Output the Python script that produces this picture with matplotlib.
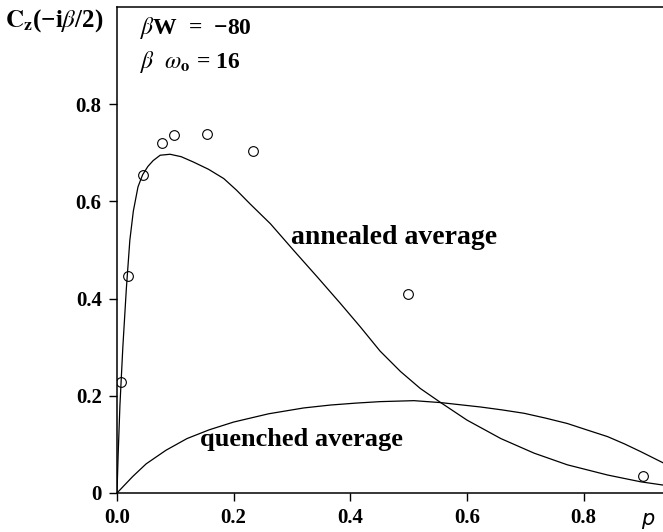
import matplotlib.pyplot as plt
import numpy as np

plt.rcParams['mathtext.fontset'] = 'stix'

# simulation points (open circles)
p_sim = [0.006, 0.018, 0.044, 0.077, 0.097, 0.154, 0.233, 0.499, 0.901]
c_sim = [0.228, 0.446, 0.654, 0.720, 0.737, 0.739, 0.704, 0.409, 0.035]

# annealed average curve
p_ann = [0.0, 0.002, 0.005, 0.010, 0.016, 0.022, 0.028, 0.036, 0.044, 0.053,
         0.062, 0.074, 0.091, 0.110, 0.131, 0.157, 0.183, 0.205, 0.228, 0.263,
         0.303, 0.343, 0.383, 0.417, 0.451, 0.486, 0.520, 0.555, 0.600, 0.658,
         0.715, 0.772, 0.841, 0.898, 0.938]
c_ann = [0.0, 0.080, 0.180, 0.300, 0.420, 0.520, 0.580, 0.630, 0.655, 0.672,
         0.684, 0.695, 0.697, 0.692, 0.681, 0.666, 0.647, 0.623, 0.595, 0.554,
         0.499, 0.445, 0.390, 0.342, 0.292, 0.250, 0.215, 0.186, 0.150, 0.112,
         0.082, 0.058, 0.037, 0.023, 0.016]

# quenched average curve
p_q = [0.0, 0.027, 0.050, 0.084, 0.120, 0.158, 0.200, 0.260, 0.320, 0.366,
       0.410, 0.451, 0.509, 0.555, 0.623, 0.660, 0.698, 0.735, 0.772, 0.805,
       0.841, 0.870, 0.898, 0.938]
c_q = [0.0, 0.034, 0.060, 0.088, 0.112, 0.130, 0.146, 0.163, 0.175, 0.181,
       0.185, 0.188, 0.190, 0.186, 0.177, 0.171, 0.164, 0.154, 0.143, 0.130,
       0.116, 0.101, 0.085, 0.061]

serif = ['Liberation Serif', 'DejaVu Serif']

fig = plt.figure(figsize=(6.63, 5.32), dpi=100)
ax = fig.add_axes([117 / 663, 1 - 493 / 532, 1 - 117 / 663, 486 / 532])

ax.plot(p_ann, c_ann, color='black', lw=0.9)
ax.plot(p_q, c_q, color='black', lw=0.9)
ax.plot(p_sim, c_sim, 'o', ms=7, mfc='none', mec='black', mew=0.8)

ax.set_xlim(0, 0.936)
ax.set_ylim(0, 1.0)
ax.set_xticks([0.0, 0.2, 0.4, 0.6, 0.8])
ax.set_xticklabels(['0.0', '0.2', '0.4', '0.6', '0.8'])
ax.set_yticks([0, 0.2, 0.4, 0.6, 0.8])
ax.set_yticklabels(['0', '0.2', '0.4', '0.6', '0.8'])
for lab in ax.get_xticklabels() + ax.get_yticklabels():
    lab.set_fontfamily(serif)
    lab.set_fontweight('bold')
    lab.set_fontsize(15)
ax.tick_params(direction='out', length=6, width=1, pad=5)
ax.spines['right'].set_visible(False)
for s in ['left', 'bottom', 'top']:
    ax.spines[s].set_linewidth(1.1)

# labels
fig.text(5 / 663, 1 - 21 / 532, r'$\mathbf{C_z}$(−$\mathbf{i}\beta$/2)', family=serif,
         fontweight='bold', fontsize=18, va='center', ha='left')
fig.text(140 / 663, 1 - 28 / 532, r'$\beta$W  =  −80', family=serif, fontweight='bold',
         fontsize=17, va='center')
fig.text(140 / 663, 1 - 62 / 532, r'$\beta$  $\omega_{\mathbf{o}}$ = 16', family=serif,
         fontweight='bold', fontsize=17, va='center')
ax.text(0.298, 0.525, 'annealed average', family=serif, fontweight='bold',
        fontsize=20, va='center', ha='left')
ax.text(0.143, 0.111, 'quenched average', family=serif, fontweight='bold',
        fontsize=19, va='center', ha='left')
fig.text(648 / 663, 1 - 519 / 532, 'p', family='DejaVu Sans', style='italic',
         fontsize=15, va='center', ha='center')

fig.savefig('out.png', dpi=100)
